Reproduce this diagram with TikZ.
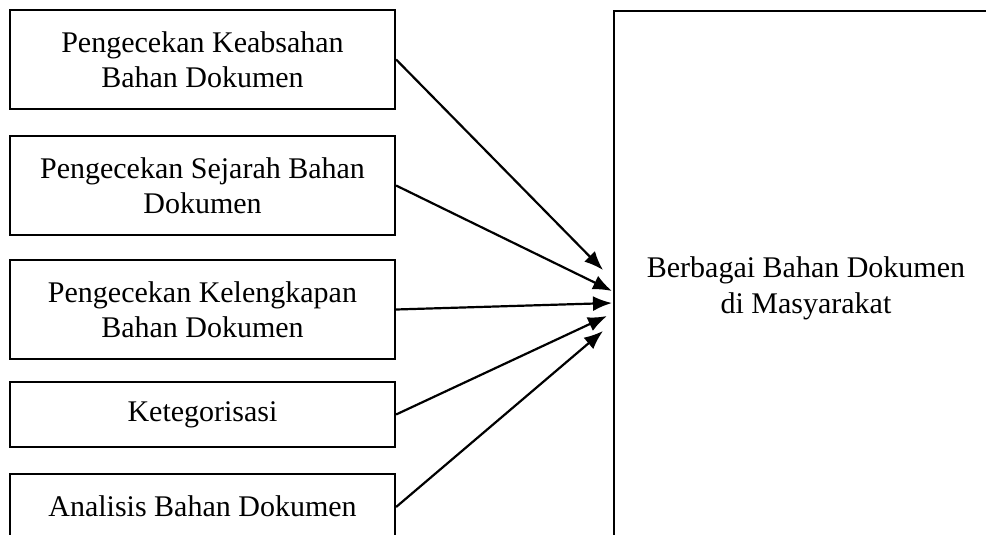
\documentclass[tikz,border=0pt]{standalone}
\usepackage{fontspec}
\setmainfont{Liberation Serif}
\usetikzlibrary{arrows.meta}

\tikzset{
  kotak/.style={draw, line width=2.2pt, minimum width=385pt, inner sep=0pt,
    align=center, font=\fontsize{30}{35.5}\selectfont},
  panah/.style={-{Latex[length=19pt,width=15pt]}, line width=2.2pt},
}

\begin{document}
\begin{tikzpicture}[x=1pt,y=-1pt]
    \useasboundingbox (0,0) rectangle (986,535);
    \clip (0,0) rectangle (986,535);
    \node[kotak, minimum height=99pt] (keabsahan) at (202.5,59.5) {Pengecekan Keabsahan\\Bahan Dokumen};
    \node[kotak, minimum height=99pt] (sejarah) at (202.5,185.5) {Pengecekan Sejarah Bahan\\Dokumen};
    \node[kotak, minimum height=99pt] (kelengkapan) at (202.5,309.5) {Pengecekan Kelengkapan\\Bahan Dokumen};
    \node[kotak, minimum height=65pt] (kategori) at (202.5,414.5) {Ketegorisasi};
    \node[kotak, minimum height=65pt] (analisis) at (202.5,506.5) {Analisis Bahan Dokumen};
    \node[kotak, minimum width=384pt, minimum height=555pt] (bahan) at (806,288.5) {Berbagai Bahan Dokumen\\di Masyarakat};
    % ujung panah
    \coordinate (t1) at (603,270);
    \coordinate (t2) at (612,291);
    \coordinate (t3) at (612,303);
    \coordinate (t4) at (607,316);
    \coordinate (t5) at (603,331);
    \draw[panah] (keabsahan.east)--(t1);
    \draw[panah] (sejarah.east)--(t2);
    \draw[panah] (kelengkapan.east)--(t3);
    \draw[panah] (kategori.east)--(t4);
    \draw[panah] (analisis.north east |- 0,507)--(t5);
\end{tikzpicture}
\end{document}
